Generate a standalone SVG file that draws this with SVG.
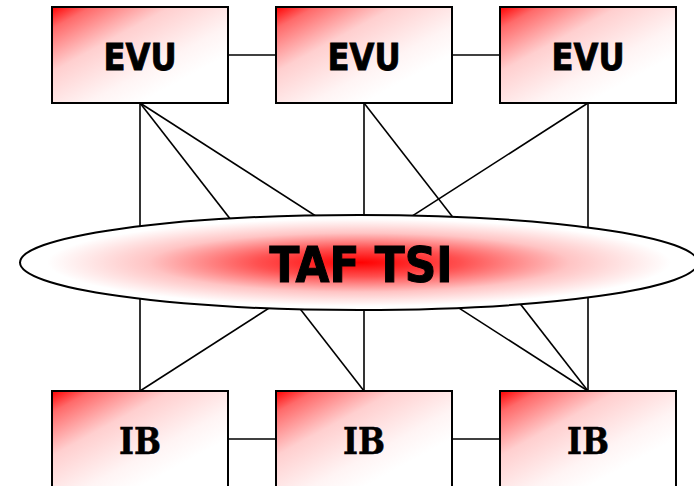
<svg xmlns="http://www.w3.org/2000/svg" width="694" height="486" viewBox="0 0 694 486">
<defs>
<linearGradient id="boxGrad" x1="0" y1="0" x2="0.75" y2="0.75">
<stop offset="0" stop-color="#ff0000"/>
<stop offset="0.15" stop-color="#ff6a6a"/>
<stop offset="0.45" stop-color="#ffcfcf"/>
<stop offset="0.8" stop-color="#fff4f4"/>
<stop offset="1" stop-color="#ffffff"/>
</linearGradient>
<radialGradient id="ellGrad" cx="0.5" cy="0.5" r="0.5">
<stop offset="0" stop-color="#ff0000"/>
<stop offset="0.3" stop-color="#ff5050"/>
<stop offset="0.62" stop-color="#ffc4c4"/>
<stop offset="0.92" stop-color="#ffffff"/>
</radialGradient>
</defs>
<style>
.box{fill:url(#boxGrad);stroke:#000;stroke-width:2}
.conn line{stroke:#000;stroke-width:1.6}
.lbl{font-family:"DejaVu Sans Condensed","DejaVu Sans",sans-serif;font-weight:bold;font-size:38px;text-anchor:middle;fill:#000;stroke:#000;stroke-width:0.8}
.lblS{font-family:"DejaVu Serif","Liberation Serif",serif;font-weight:bold;font-size:38px;text-anchor:middle;fill:#000;stroke:#000;stroke-width:0.6}
</style>
<rect width="694" height="486" fill="#fff"/>
<g id="connectors" class="conn">
<line x1="140" y1="103" x2="140" y2="391"/>
<line x1="140" y1="103" x2="364" y2="391"/>
<line x1="140" y1="103" x2="588" y2="391"/>
<line x1="364" y1="103" x2="364" y2="391"/>
<line x1="364" y1="103" x2="588" y2="391"/>
<line x1="588" y1="103" x2="140" y2="391"/>
<line x1="588" y1="103" x2="588" y2="391"/>
<line x1="228" y1="55" x2="276" y2="55"/>
<line x1="452" y1="55" x2="500" y2="55"/>
<line x1="228" y1="439" x2="276" y2="439"/>
<line x1="452" y1="439" x2="500" y2="439"/>
</g>
<g id="taf">
<ellipse cx="359" cy="262.5" rx="339" ry="47.5" fill="url(#ellGrad)" stroke="#000" stroke-width="2"/>
<text class="lbl" x="361" y="282" style="font-size:49px;stroke-width:1" textLength="183" lengthAdjust="spacingAndGlyphs">TAF TSI</text>
</g>
<g id="evu1"><rect class="box" x="52" y="7" width="176" height="96"/><text class="lbl" x="140" y="70" textLength="73" lengthAdjust="spacingAndGlyphs">EVU</text></g>
<g id="evu2"><rect class="box" x="276" y="7" width="176" height="96"/><text class="lbl" x="364" y="70" textLength="73" lengthAdjust="spacingAndGlyphs">EVU</text></g>
<g id="evu3"><rect class="box" x="500" y="7" width="176" height="96"/><text class="lbl" x="588" y="70" textLength="73" lengthAdjust="spacingAndGlyphs">EVU</text></g>
<g id="ib1"><rect class="box" x="52" y="391" width="176" height="96"/><text class="lblS" x="140" y="454" textLength="42" lengthAdjust="spacingAndGlyphs">IB</text></g>
<g id="ib2"><rect class="box" x="276" y="391" width="176" height="96"/><text class="lblS" x="364" y="454" textLength="42" lengthAdjust="spacingAndGlyphs">IB</text></g>
<g id="ib3"><rect class="box" x="500" y="391" width="176" height="96"/><text class="lblS" x="588" y="454" textLength="42" lengthAdjust="spacingAndGlyphs">IB</text></g>
</svg>
